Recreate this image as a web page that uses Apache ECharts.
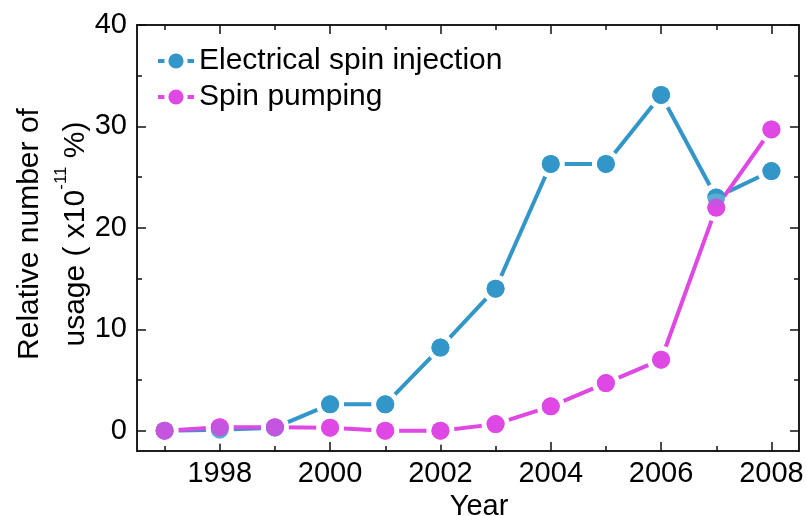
<!DOCTYPE html>
<html>
<head>
<meta charset="utf-8">
<script src="https://cdn.jsdelivr.net/npm/echarts@6/dist/echarts.min.js"></script>
<style>
  html, body { margin: 0; padding: 0; background: #fff; }
  #chart { width: 806px; height: 516px; }
</style>
</head>
<body>
<div id="chart"></div>
<script>
// Publication years
const years = [1997, 1998, 1999, 2000, 2001, 2002, 2003, 2004, 2005, 2006, 2007, 2008];
// Relative number of usage (x10^-11 %)
const electricalSpinInjection = [0, 0.1, 0.3, 2.6, 2.6, 8.2, 14.0, 26.3, 26.3, 33.1, 23.0, 25.6];
const spinPumping = [0, 0.35, 0.35, 0.3, 0, 0, 0.65, 2.4, 4.7, 7.0, 22.0, 29.7];

const seriesNames = ['Electrical spin injection', 'Spin pumping'];
const xMajorTicks = [1998, 2000, 2002, 2004, 2006, 2008];
const xMinorTicks = [1997, 1999, 2001, 2003, 2005, 2007];
const yMajorTicks = [0, 10, 20, 30, 40];
const yMinorTicks = [5, 15, 25, 35];

const BLUE = '#3396c8';
const PINK = '#df48e3';
const INK = '#111';
const FONT = '"Liberation Sans", Arial, sans-serif';

const pairs = vals => years.map((y, i) => [y, vals[i]]);

function xAxisDef(pos, ticks, len, withLabels) {
  const a = {
    type: 'value', position: pos, min: 1996.5, max: 2008.5,
    axisLine: { show: true, onZero: false, lineStyle: { color: INK, width: 1.5 } },
    axisTick: { show: true, inside: true, length: len, customValues: ticks, lineStyle: { color: INK, width: 1.5 } },
    axisLabel: { show: false },
    splitLine: { show: false }
  };
  if (withLabels) {
    a.axisLabel = {
      show: true, customValues: ticks, margin: 8,
      color: '#000', fontSize: 29, fontFamily: FONT,
      formatter: v => String(v)
    };
    a.name = 'Year';
    a.nameLocation = 'middle';
    a.nameGap = 20;
    a.nameTextStyle = { color: '#000', fontSize: 29, fontFamily: FONT, padding: [0, 0, 0, 22] };
  }
  return a;
}

function yAxisDef(pos, ticks, len, withLabels) {
  const a = {
    type: 'value', position: pos, min: -2, max: 40,
    axisLine: { show: true, onZero: false, lineStyle: { color: INK, width: 1.5 } },
    axisTick: { show: true, inside: true, length: len, customValues: ticks, lineStyle: { color: INK, width: 1.5 } },
    axisLabel: { show: false },
    splitLine: { show: false }
  };
  if (withLabels) {
    a.axisLabel = {
      show: true, customValues: ticks, margin: 10,
      color: '#000', fontSize: 29, fontFamily: FONT
    };
  }
  return a;
}

// Line with white-ringed markers: the ring leaves a small gap where the line meets each point
const lineSeries = (name, color, vals, z) => ({
  name, type: 'line', data: pairs(vals), z,
  symbol: 'circle', symbolSize: 23, showSymbol: true,
  lineStyle: { color, width: 4 },
  itemStyle: { color, borderColor: '#ffffff', borderWidth: 5 },
  emphasis: { disabled: true },
  animation: false
});

// Plain markers drawn on top so overlapping points stay clean
const dotSeries = (color, vals, z) => ({
  type: 'scatter', data: pairs(vals), z,
  symbol: 'circle', symbolSize: 18,
  itemStyle: { color, borderWidth: 0 },
  emphasis: { disabled: true },
  animation: false
});

const chart = echarts.init(document.getElementById('chart'), null, { renderer: 'canvas' });
chart.setOption({
  backgroundColor: '#fff',
  animation: false,
  grid: { left: 137, right: 7, top: 25, bottom: 65, outerBoundsMode: 'none' },
  legend: {
    data: seriesNames,
    orient: 'vertical',
    left: 151, top: 41,
    itemWidth: 36, itemHeight: 24, itemGap: 6,
    lineStyle: { width: 4 },
    itemStyle: { borderColor: '#ffffff', borderWidth: 4 },
    textStyle: { color: '#000', fontSize: 30, fontFamily: FONT },
    selectedMode: false
  },
  xAxis: [
    xAxisDef('bottom', xMajorTicks, 9, true),
    xAxisDef('bottom', xMinorTicks, 5, false),
    xAxisDef('top', xMajorTicks, 9, false),
    xAxisDef('top', xMinorTicks, 5, false)
  ],
  yAxis: [
    yAxisDef('left', yMajorTicks, 9, true),
    yAxisDef('left', yMinorTicks, 5, false),
    yAxisDef('right', yMajorTicks, 9, false),
    yAxisDef('right', yMinorTicks, 5, false)
  ],
  graphic: [{
    type: 'text',
    x: 53, y: 234,
    rotation: Math.PI / 2,
    style: {
      text: '{a|Relative number of}\n{a|usage ( x10}{sup|-11}{a| %)}',
      align: 'center', verticalAlign: 'middle',
      fill: '#000',
      rich: {
        a: { fontSize: 30, fontFamily: FONT, lineHeight: 46, fill: '#000' },
        sup: { fontSize: 17, fontFamily: FONT, lineHeight: 27, verticalAlign: 'top', fill: '#000' }
      }
    }
  }],
  series: [
    lineSeries(seriesNames[0], BLUE, electricalSpinInjection, 2),
    lineSeries(seriesNames[1], PINK, spinPumping, 3),
    dotSeries(BLUE, electricalSpinInjection, 4),
    dotSeries(PINK, spinPumping, 5)
  ]
});
</script>
</body>
</html>
